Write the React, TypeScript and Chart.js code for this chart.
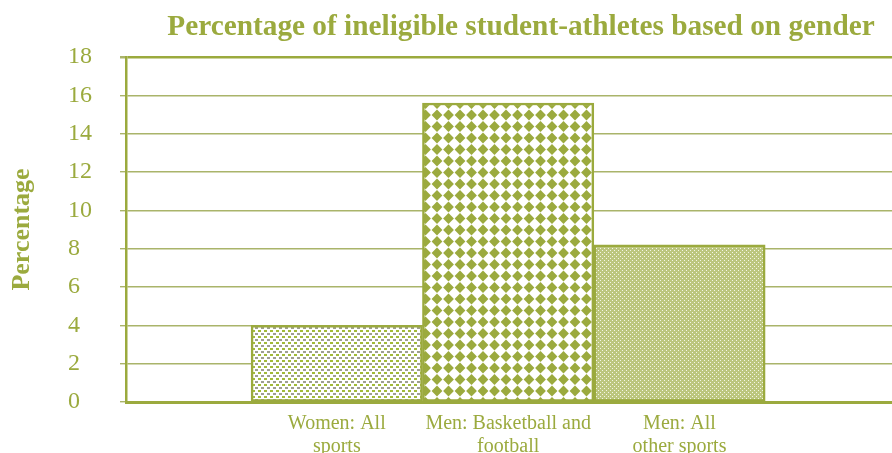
import React, { useEffect, useRef } from "react";
import { Chart, registerables } from "chart.js";

Chart.register(...registerables);

const titleText = "Percentage of ineligible student-athletes based on gender";
const yTitle = "Percentage";
const categories: string[][] = [
  ["Women: All", "sports"],
  ["Men: Basketball and", "football"],
  ["Men: All", "other sports"],
];
const values: number[] = [4.0, 15.6, 8.2];
const yTicks: number[] = [0, 2, 4, 6, 8, 10, 12, 14, 16, 18];

const OLIVE = "#9BAA3E";
const GRID = "#AAB46A";
const SERIF = "'Liberation Serif', 'Times New Roman', serif";

function makeTile(size: number, bg: string, draw: (c: CanvasRenderingContext2D) => void) {
  const cv = document.createElement("canvas");
  cv.width = size;
  cv.height = size;
  const c = cv.getContext("2d")!;
  c.fillStyle = bg;
  c.fillRect(0, 0, size, size);
  draw(c);
  return cv;
}

const titlePlugin = {
  id: "customTitle",
  afterDraw(chart: any) {
    const { ctx, chartArea } = chart;
    ctx.save();
    ctx.fillStyle = OLIVE;
    ctx.font = `bold 29.3px ${SERIF}`;
    ctx.textAlign = "center";
    ctx.textBaseline = "alphabetic";
    ctx.fillText(titleText, (chartArea.left + chartArea.right) / 2 + 12, 35);
    ctx.restore();
  },
};

export default function App() {
  const ref = useRef<HTMLCanvasElement | null>(null);
  useEffect(() => {
    if (!ref.current) return;
    const ctx = ref.current.getContext("2d")!;

    const dots = makeTile(6, "#ffffff", (c) => {
      c.fillStyle = "#A2BA38";
      c.fillRect(0, 0, 3, 2);
      c.fillStyle = "#9E9E90";
      c.fillRect(3, 3, 3, 2);
    });
    const diamonds = makeTile(23, "#ffffff", (c) => {
      c.fillStyle = OLIVE;
      const s = 11.5;
      for (let i = 0; i < 3; i++) {
        for (let j = 0; j < 3; j++) {
          const cx = i * s;
          const cy = j * s;
          const r = 5.4;
          c.beginPath();
          c.moveTo(cx, cy - r);
          c.lineTo(cx + r, cy);
          c.lineTo(cx, cy + r);
          c.lineTo(cx - r, cy);
          c.closePath();
          c.fill();
        }
      }
    });
    const fine = makeTile(4, "#BCC67E", (c) => {
      c.fillStyle = "#F4F6E6";
      c.fillRect(0, 0, 1, 1);
      c.fillRect(2, 2, 1, 1);
    });
    const patterns = [
      ctx.createPattern(dots, "repeat")!,
      ctx.createPattern(diamonds, "repeat")!,
      ctx.createPattern(fine, "repeat")!,
    ];

    const chart = new Chart(ctx, {
      type: "bar",
      data: {
        datasets: [
          {
            data: values.map((v, i) => ({ x: i + 1, y: v })),
            backgroundColor: patterns,
            borderColor: OLIVE,
            borderWidth: 2.5,
            borderSkipped: false,
            barPercentage: 1,
            categoryPercentage: 1,
          },
        ],
      },
      plugins: [titlePlugin],
      options: {
        animation: false,
        responsive: false,
        maintainAspectRatio: false,
        layout: { padding: { left: 0, right: 0, top: 57, bottom: 0 } },
        plugins: {
          legend: { display: false },
          tooltip: { enabled: false },
          title: { display: false },
        },
        scales: {
          x: {
            type: "linear",
            min: -0.23,
            max: 4.24,
            offset: false,
            afterBuildTicks: (scale: any) => {
              scale.ticks = categories.map((_, i) => ({ value: i + 1 }));
            },
            grid: { display: false, drawTicks: false },
            border: { display: true, color: OLIVE, width: 3 },
            ticks: {
              autoSkip: false,
              maxRotation: 0,
              minRotation: 0,
              padding: 10.5,
              color: OLIVE,
              font: { family: SERIF, size: 20, lineHeight: 1.15 },
              callback: (v: any) => {
                const idx = Math.round(Number(v)) - 1;
                return categories[idx] ?? "";
              },
            },
          },
          y: {
            min: 0,
            max: 18,
            afterBuildTicks: (scale: any) => {
              scale.ticks = yTicks.map((v) => ({ value: v }));
            },
            afterFit: (scale: any) => {
              scale.width = 126;
            },
            grid: {
              color: (c: any) => (c.tick && c.tick.value === 18 ? OLIVE : GRID),
              lineWidth: (c: any) => (c.tick && c.tick.value === 18 ? 2.5 : 1.4),
              tickLength: 6,
              drawTicks: true,
              tickColor: GRID,
            },
            border: { display: true, color: OLIVE, width: 2.5 },
            ticks: {
              padding: 28,
              color: OLIVE,
              font: { family: SERIF, size: 24 },
              callback: (v: any) => (Number(v) < 10 ? String(v) + "  " : String(v)),
            },
            title: {
              display: true,
              text: yTitle,
              color: OLIVE,
              font: { family: SERIF, size: 26, weight: "bold" },
              padding: { top: 7, bottom: 0 },
            },
          },
        },
      },
    });
    return () => chart.destroy();
  }, []);

  return (
    <div style={{ position: "fixed", left: 0, top: 0, width: 892, height: 453, overflow: "hidden", background: "#fff" }}>
      <canvas ref={ref} width={892} height={469} style={{ display: "block" }} />
    </div>
  );
}
